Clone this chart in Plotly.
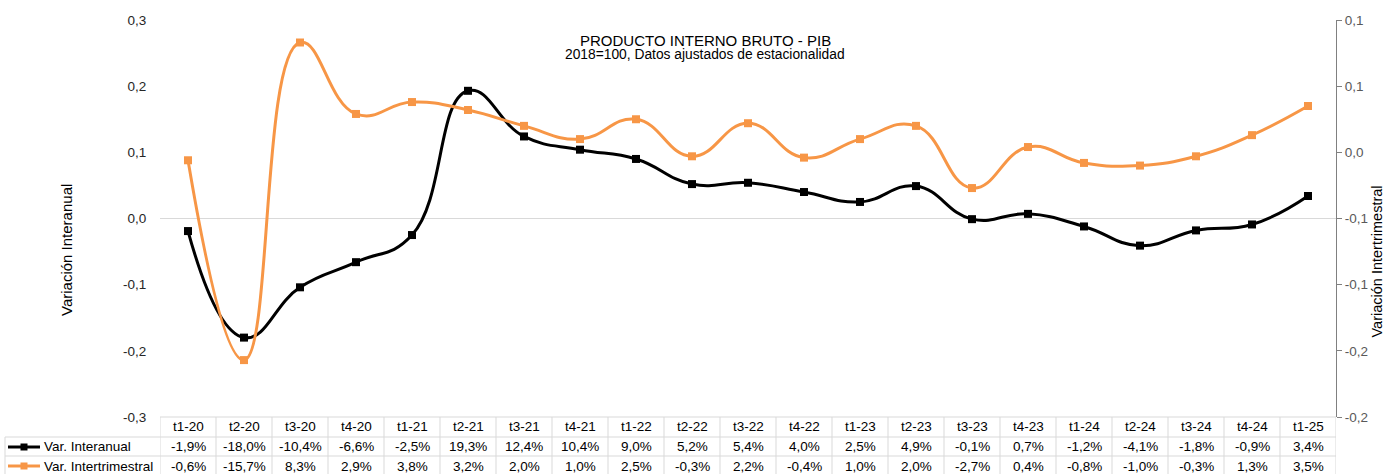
import plotly.graph_objects as go

# ---- data ----
categories = ["t1-20", "t2-20", "t3-20", "t4-20", "t1-21", "t2-21", "t3-21", "t4-21",
              "t1-22", "t2-22", "t3-22", "t4-22", "t1-23", "t2-23", "t3-23", "t4-23",
              "t1-24", "t2-24", "t3-24", "t4-24", "t1-25"]
var_interanual = [-0.019, -0.180, -0.104, -0.066, -0.025, 0.193, 0.124, 0.104, 0.090, 0.052,
                  0.054, 0.040, 0.025, 0.049, -0.001, 0.007, -0.012, -0.041, -0.018, -0.009, 0.034]
var_intertrimestral = [-0.006, -0.157, 0.083, 0.029, 0.038, 0.032, 0.020, 0.010, 0.025, -0.003,
                       0.022, -0.004, 0.010, 0.020, -0.027, 0.004, -0.008, -0.010, -0.003, 0.013, 0.035]
left_tickvals = [-0.3, -0.2, -0.1, 0.0, 0.1, 0.2, 0.3]
left_ticktext = ["-0,3", "-0,2", "-0,1", "0,0", "0,1", "0,2", "0,3"]
right_tickvals = [-0.2, -0.15, -0.1, -0.05, 0.0, 0.05, 0.1]
right_ticktext = ["-0,2", "-0,2", "-0,1", "-0,1", "0,0", "0,1", "0,1"]
series_names = ["Var. Interanual", "Var. Intertrimestral"]
title_lines = ["PRODUCTO INTERNO BRUTO - PIB", "2018=100, Datos ajustados de estacionalidad"]

BLACK = "#000000"
ORANGE = "#F79646"
FONT = "Arial, Liberation Sans, sans-serif"
GRID = "#d9d9d9"

# plot-area geometry in pixels (for converting paper coords)
W, H = 1385, 474
L, R, T, B = 160, 49, 20, 57
PW, PH = W - L - R, H - T - B


def px_x(px):
    return (px - L) / PW


def px_y(py):
    return (H - B - py) / PH


def pct(v):
    return f"{v*100:.1f}%".replace(".", ",")


x = list(range(len(categories)))

fig = go.Figure()
fig.add_trace(go.Scatter(
    x=x, y=var_interanual, name=series_names[0], mode="lines+markers",
    line=dict(color=BLACK, width=3, shape="spline", smoothing=1.3),
    marker=dict(symbol="square", size=8, color=BLACK), yaxis="y", showlegend=False))
fig.add_trace(go.Scatter(
    x=x, y=var_intertrimestral, name=series_names[1], mode="lines+markers",
    line=dict(color=ORANGE, width=3, shape="spline", smoothing=1.3),
    marker=dict(symbol="square", size=8, color=ORANGE), yaxis="y2", showlegend=False))

shapes = []
annotations = []

# table grid
row_lines = [417, 437, 456]
for i, py in enumerate(row_lines):
    x0 = 0 if i == 0 else px_x(5)
    shapes.append(dict(type="line", xref="paper", yref="paper", x0=x0, x1=1,
                       y0=px_y(py), y1=px_y(py), line=dict(color=GRID, width=1)))
for k in range(len(categories) + 1):
    xv = k - 0.5
    shapes.append(dict(type="line", xref="x", yref="paper", x0=xv, x1=xv,
                       y0=px_y(417), y1=px_y(480), line=dict(color=GRID, width=1)))
shapes.append(dict(type="line", xref="paper", yref="paper", x0=px_x(5), x1=px_x(5),
                   y0=px_y(437), y1=px_y(480), line=dict(color=GRID, width=1)))

# header row (categories) and value rows
for i, c in enumerate(categories):
    annotations.append(dict(x=i, y=px_y(427), xref="x", yref="paper", text=c, showarrow=False,
                            font=dict(family=FONT, size=13.5, color=BLACK), xanchor="center", yanchor="middle"))
    annotations.append(dict(x=i, y=px_y(447), xref="x", yref="paper", text=pct(var_interanual[i]),
                            showarrow=False, font=dict(family=FONT, size=13.5, color=BLACK),
                            xanchor="center", yanchor="middle"))
    annotations.append(dict(x=i, y=px_y(466), xref="x", yref="paper", text=pct(var_intertrimestral[i]),
                            showarrow=False, font=dict(family=FONT, size=13.5, color=BLACK),
                            xanchor="center", yanchor="middle"))

# legend keys in table
for name, color, py in [(series_names[0], BLACK, 447), (series_names[1], ORANGE, 466)]:
    shapes.append(dict(type="line", xref="paper", yref="paper", x0=px_x(8), x1=px_x(40),
                       y0=px_y(py), y1=px_y(py), line=dict(color=color, width=3)))
    shapes.append(dict(type="rect", xref="paper", yref="paper", x0=px_x(20.5), x1=px_x(27.5),
                       y0=px_y(py + 3.5), y1=px_y(py - 3.5), line=dict(width=0), fillcolor=color))
    annotations.append(dict(x=px_x(42), y=px_y(py), xref="paper", yref="paper", text=name,
                            showarrow=False, font=dict(family=FONT, size=13.5, color=BLACK),
                            xanchor="left", yanchor="middle"))

# titles
annotations.append(dict(x=px_x(705), y=px_y(40), xref="paper", yref="paper", text=title_lines[0],
                        showarrow=False, font=dict(family=FONT, size=15, color=BLACK),
                        xanchor="center", yanchor="middle"))
annotations.append(dict(x=px_x(705), y=px_y(55), xref="paper", yref="paper", text=title_lines[1],
                        showarrow=False, font=dict(family=FONT, size=13.8, color=BLACK),
                        xanchor="center", yanchor="middle"))
annotations.append(dict(x=px_x(67), y=px_y(250), xref="paper", yref="paper", text="Variación Interanual",
                        showarrow=False, textangle=-90, font=dict(family=FONT, size=15, color=BLACK),
                        xanchor="center", yanchor="middle"))
annotations.append(dict(x=px_x(1376.5), y=px_y(262), xref="paper", yref="paper", text="Variación Intertrimestral",
                        showarrow=False, textangle=-90, font=dict(family=FONT, size=14.5, color=BLACK),
                        xanchor="center", yanchor="middle"))

fig.update_layout(
    width=W, height=H,
    margin=dict(l=L, r=R, t=T, b=B, pad=0),
    paper_bgcolor="white", plot_bgcolor="white",
    font=dict(family=FONT, size=13.5, color=BLACK),
    xaxis=dict(range=[-0.5, len(categories) - 0.5], showgrid=False, zeroline=False,
               showticklabels=False, ticks="", showline=False, fixedrange=True),
    yaxis=dict(range=[-0.3, 0.3], tickvals=left_tickvals, ticktext=left_ticktext,
               showgrid=False, zeroline=True, zerolinecolor=GRID, zerolinewidth=1,
               showline=False, ticks="outside", ticklen=10, tickcolor="rgba(0,0,0,0)",
               tickfont=dict(family=FONT, size=13.5, color="#262626")),
    yaxis2=dict(range=[-0.2, 0.1], overlaying="y", side="right", tickvals=right_tickvals,
                ticktext=right_ticktext, showgrid=False, zeroline=False, showline=True,
                linecolor="#808080", linewidth=1, ticks="outside", ticklen=5, tickcolor="#808080",
                tickfont=dict(family=FONT, size=13.5, color="#595959")),
    shapes=shapes, annotations=annotations,
)

fig.write_html("out.html", config={"displayModeBar": False},
               post_script="document.body.style.margin='0';document.body.style.overflow='hidden';")
